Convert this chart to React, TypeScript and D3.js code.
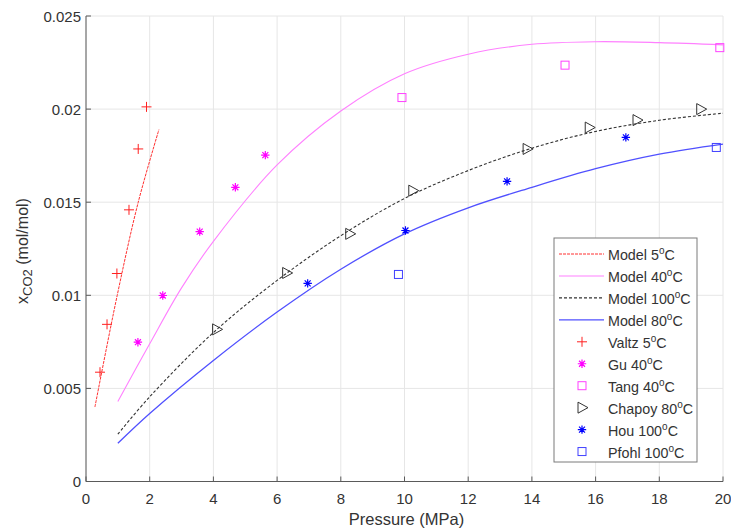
import React from "react";
import * as d3 from "d3";

const xTicks = [0, 2, 4, 6, 8, 10, 12, 14, 16, 18, 20];
const yTicks = [0, 0.005, 0.01, 0.015, 0.02, 0.025];
const yTickLabels = ["0", "0.005", "0.01", "0.015", "0.02", "0.025"];

const model5: [number, number][] = [[0.28, 0.004], [0.98, 0.01], [1.64, 0.015], [2.29, 0.0189]];
const model40: [number, number][] = [[1.0, 0.0043], [2.0, 0.0074], [3, 0.0104], [4, 0.0129], [6, 0.017], [8, 0.0199], [10, 0.0219], [12, 0.02295], [14, 0.02348], [16, 0.02362], [18, 0.02357], [20, 0.02345]];
const model100: [number, number][] = [[1.0, 0.00254], [2, 0.00455], [4, 0.008], [6, 0.0108], [8, 0.0132], [10, 0.0152], [12, 0.0167], [14, 0.0179], [16, 0.0188], [18, 0.0194], [20, 0.01978]];
const model80: [number, number][] = [[1.0, 0.00205], [2, 0.00365], [4, 0.0065], [6, 0.0091], [8, 0.0114], [10, 0.0133], [12, 0.0147], [14, 0.0158], [16, 0.0168], [18, 0.01758], [20, 0.01812]];

const valtz: [number, number][] = [[0.44, 0.00587], [0.66, 0.00844], [0.97, 0.01117], [1.35, 0.01459], [1.64, 0.01786], [1.9, 0.02012]];
const gu: [number, number][] = [[1.63, 0.00748], [2.41, 0.00999], [3.57, 0.01342], [4.69, 0.0158], [5.63, 0.01753]];
const tang: [number, number][] = [[9.92, 0.02062], [15.04, 0.02236], [19.9, 0.0233]];
const chapoy: [number, number][] = [[4.1, 0.00817], [6.3, 0.0112], [8.28, 0.0133], [10.26, 0.01562], [13.85, 0.01786], [15.8, 0.01901], [17.3, 0.01941], [19.3, 0.02]];
const hou: [number, number][] = [[6.96, 0.01064], [10.03, 0.01348], [13.22, 0.01612], [16.95, 0.01848]];
const pfohl: [number, number][] = [[9.81, 0.01112], [19.79, 0.01794]];

const legendNames = ["Model", "Model", "Model", "Model", "Valtz", "Gu", "Tang", "Chapoy", "Hou", "Pfohl"];
const legendTemps = ["5", "40", "100", "80", "5", "40", "40", "80", "100", "100"];

const W = 731, H = 532;
const M = { left: 86, right: 8, top: 16, bottom: 50.5 };
const FONT = "'Liberation Sans', Arial, Helvetica, sans-serif";

const x = d3.scaleLinear().domain([0, 20]).range([M.left, W - M.right]);
const y = d3.scaleLinear().domain([0, 0.025]).range([H - M.bottom, M.top]);

const lineGen = d3.line<[number, number]>().x(d => x(d[0])).y(d => y(d[1])).curve(d3.curveCatmullRom.alpha(0.5));

type MarkerKind = "plus" | "star" | "square" | "tri";

function Marker({ kind, cx, cy, color }: { kind: MarkerKind; cx: number; cy: number; color: string }) {
  const s = 5;
  if (kind === "plus") {
    return <path d={`M${cx - s},${cy}H${cx + s}M${cx},${cy - s}V${cy + s}`} stroke={color} strokeWidth={1} fill="none" />;
  }
  if (kind === "star") {
    const r = 4.2;
    const d = [0, 45, 90, 135].map(a => {
      const rad = (a * Math.PI) / 180;
      const dx = r * Math.cos(rad), dy = r * Math.sin(rad);
      return `M${cx - dx},${cy - dy}L${cx + dx},${cy + dy}`;
    }).join("");
    return <path d={d} stroke={color} strokeWidth={1.2} fill="none" />;
  }
  if (kind === "square") {
    return <rect x={cx - 4} y={cy - 4} width={8} height={8} stroke={color} strokeWidth={1} fill="none" />;
  }
  return <path d={`M${cx - 4},${cy - 5.5}L${cx + 6},${cy}L${cx - 4},${cy + 5.5}Z`} stroke={color} strokeWidth={1} fill="none" />;
}

const lines = [
  { data: model5, color: "#ff3030", dash: "3,1", width: 1 },
  { data: model40, color: "#ff80ff", dash: undefined, width: 1.1 },
  { data: model100, color: "#333333", dash: "3,2", width: 1.1 },
  { data: model80, color: "#5050ff", dash: undefined, width: 1.3 },
];
const scatters: { data: [number, number][]; kind: MarkerKind; color: string }[] = [
  { data: valtz, kind: "plus", color: "#ff2020" },
  { data: gu, kind: "star", color: "#ff00ff" },
  { data: tang, kind: "square", color: "#ff40ff" },
  { data: chapoy, kind: "tri", color: "#333333" },
  { data: hou, kind: "star", color: "#0000ff" },
  { data: pfohl, kind: "square", color: "#4040ff" },
];

export default function App() {
  const x0 = M.left, x1 = W - M.right, y0 = H - M.bottom, y1 = M.top;
  const legX = 554, legY = 238, legW = 143, legH = 224;
  const rowY = (i: number) => 254 + i * 21.95;
  return (
    <svg width={W} height={H} style={{ position: "absolute", left: 0, top: 0, background: "#fff" }} fontFamily={FONT}>
      {xTicks.map(t => (
        <line key={"gx" + t} x1={x(t)} x2={x(t)} y1={y0} y2={y1} stroke="#e6e6e6" strokeWidth={1} />
      ))}
      {yTicks.map(t => (
        <line key={"gy" + t} x1={x0} x2={x1} y1={y(t)} y2={y(t)} stroke="#e6e6e6" strokeWidth={1} />
      ))}
      <line x1={x0} x2={x1} y1={y0} y2={y0} stroke="#5a5a5a" strokeWidth={1} />
      <line x1={x0} x2={x0} y1={y0} y2={y1} stroke="#5a5a5a" strokeWidth={1} />
      {xTicks.map(t => (
        <g key={"tx" + t}>
          <line x1={x(t)} x2={x(t)} y1={y0} y2={y0 - 5} stroke="#5a5a5a" />
          <text x={x(t)} y={y0 + 22.5} textAnchor="middle" fontSize={15} fill="#333">{t}</text>
        </g>
      ))}
      {yTicks.map((t, i) => (
        <g key={"ty" + t}>
          <line x1={x0} x2={x0 + 5} y1={y(t)} y2={y(t)} stroke="#5a5a5a" />
          <text x={x0 - 5} y={y(t) + 5.5} textAnchor="end" fontSize={15} fill="#333">{yTickLabels[i]}</text>
        </g>
      ))}
      <text x={(x0 + x1) / 2 + 2} y={525} textAnchor="middle" fontSize={16.5} fill="#333">Pressure (MPa)</text>
      <text transform={`translate(28,${251}) rotate(-90)`} textAnchor="middle" fontSize={16} fill="#333">
        x<tspan fontSize={13} dy={4}>CO2</tspan><tspan dy={-4}> (mol/mol)</tspan>
      </text>
      {lines.map((l, i) => (
        <path key={"l" + i} d={lineGen(l.data) || ""} fill="none" stroke={l.color} strokeWidth={l.width} strokeDasharray={l.dash} />
      ))}
      {scatters.map((s, i) => (
        <g key={"s" + i}>
          {s.data.map((d, j) => (
            <Marker key={j} kind={s.kind} cx={x(d[0])} cy={y(d[1])} color={s.color} />
          ))}
        </g>
      ))}
      <rect x={legX} y={legY} width={legW} height={legH} fill="#fff" stroke="#7a7a7a" strokeWidth={1} />
      {legendNames.map((name, i) => {
        const ry = rowY(i);
        return (
          <g key={"lg" + i}>
            {i < 4 ? (
              <line x1={559} x2={604} y1={ry} y2={ry} stroke={lines[i].color} strokeWidth={lines[i].width} strokeDasharray={lines[i].dash} />
            ) : (
              <Marker kind={scatters[i - 4].kind} cx={582} cy={ry} color={scatters[i - 4].color} />
            )}
            <text x={608} y={ry + 6} fontSize={14.3} fill="#333">
              {name} {legendTemps[i]}<tspan fontSize={10} dy={-6}>o</tspan><tspan dy={6}>C</tspan>
            </text>
          </g>
        );
      })}
    </svg>
  );
}
